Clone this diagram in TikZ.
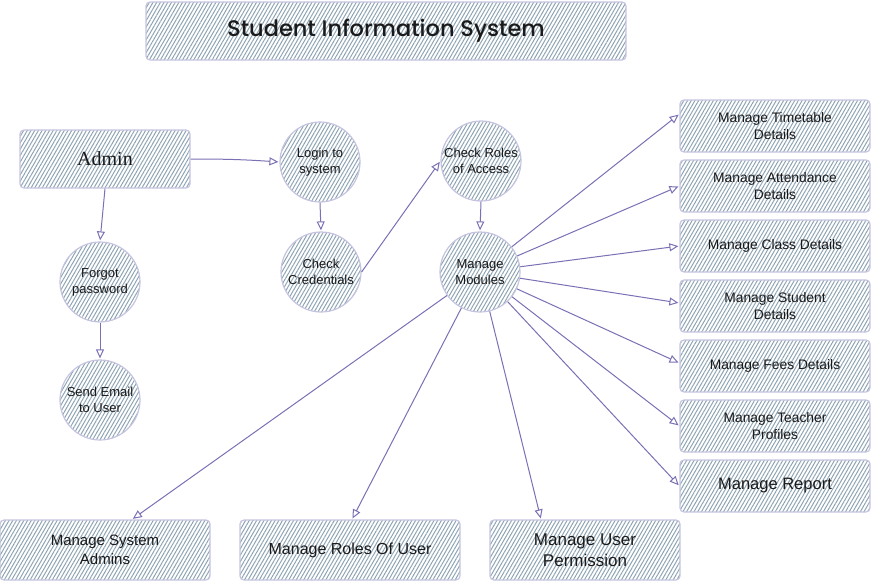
\documentclass[tikz,border=0pt]{standalone}
\usepackage{fontspec}
\setsansfont{Liberation Sans}
\newfontfamily\titlefont{Poppins Medium}
\newfontfamily\adminfont{Liberation Serif}
\usetikzlibrary{patterns.meta,arrows.meta,calc}
\definecolor{edgec}{HTML}{C6C4E0}
\definecolor{hatchc}{HTML}{8FA4B3}
\definecolor{arrc}{HTML}{7A70B4}
\definecolor{txtc}{HTML}{1A1A1A}
\begin{document}
\begin{tikzpicture}[x=1pt,y=-1pt,
 hatched/.style={draw=edgec, line width=1.2pt, pattern={Lines[angle=60,distance=3.2pt,line width=1pt]}, pattern color=hatchc},
 box/.style={hatched, rounded corners=4pt, inner sep=2pt, align=center, text=txtc, font=\sffamily\fontsize{13.8}{17}\selectfont},
 rbox/.style={box, minimum width=190pt, minimum height=52pt},
 bbox/.style={box, minimum height=60pt},
 bubble/.style={hatched, circle, minimum size=80pt, inner sep=0pt, align=center, text=txtc, font=\sffamily\fontsize{13}{16}\selectfont},
 conn/.style={draw=arrc, line width=1pt, -{Triangle[open,length=9pt,width=8pt]}, shorten >=1pt}
]
\useasboundingbox (0,0) rectangle (871,581);

\node[box, minimum width=480pt, minimum height=58pt, font=\titlefont\fontsize{22.5}{26}\selectfont] (title) at (386,31) {Student Information System};
\node[box, minimum width=170pt, minimum height=58pt, font=\adminfont\fontsize{20}{24}\selectfont] (admin) at (105,159) {Admin};

\node[bubble] (login) at (320,162) {Login to\\system};
\node[bubble] (cc) at (321,272) {Check\\Credentials};
\node[bubble] (fp) at (100,282) {Forgot\\password};
\node[bubble] (se) at (100,400) {Send Email\\to User};
\node[bubble] (cr) at (481,161) {Check Roles\\of Access};
\node[bubble] (mm) at (480,272) {Manage\\Modules};

\node[rbox] (tt) at (775,126) {Manage Timetable\\Details};
\node[rbox] (at) at (775,186) {Manage Attendance\\Details};
\node[rbox] (cl) at (775,246) {Manage Class Details};
\node[rbox] (st) at (775,306) {Manage Student\\Details};
\node[rbox] (fe) at (775,366) {Manage Fees Details};
\node[rbox] (te) at (775,426) {Manage Teacher\\Profiles};
\node[rbox, font=\sffamily\fontsize{16.5}{20}\selectfont] (re) at (775,486) {Manage Report};

\node[bbox, minimum width=210pt, font=\sffamily\fontsize{15}{19}\selectfont] (sa) at (105,550) {Manage System\\Admins};
\node[bbox, minimum width=220pt, font=\sffamily\fontsize{16}{20}\selectfont] (ro) at (350,550) {Manage Roles Of User};
\node[bbox, minimum width=190pt, font=\sffamily\fontsize{17}{21}\selectfont] (pe) at (585,550) {Manage User\\Permission};

\draw[conn] (admin.east) to[bend left=2] (login.west);
\draw[conn] (admin.south) -- (fp.north);
\draw[conn] (fp.south) -- (se.north);
\draw[conn] (login.south) -- (cc.north);
\draw[conn] (cc.east) -- (cr.west);
\draw[conn] (cr.south) -- (mm.north);

\draw[conn] (mm) -- ([yshift=12pt]tt.west);
\draw[conn] (mm) -- (at.west);
\draw[conn] (mm) -- (cl.west);
\draw[conn] (mm) -- ([yshift=3pt]st.west);
\draw[conn] (mm) -- ([yshift=3pt]fe.west);
\draw[conn] (mm) -- (te.west);
\draw[conn] (mm) -- (re.west);

\draw[conn] (mm) -- ([xshift=27pt]sa.north);
\draw[conn] (mm) -- ([xshift=2pt]ro.north);
\draw[conn] (mm) -- ([xshift=-44pt]pe.north);
\end{tikzpicture}
\end{document}
